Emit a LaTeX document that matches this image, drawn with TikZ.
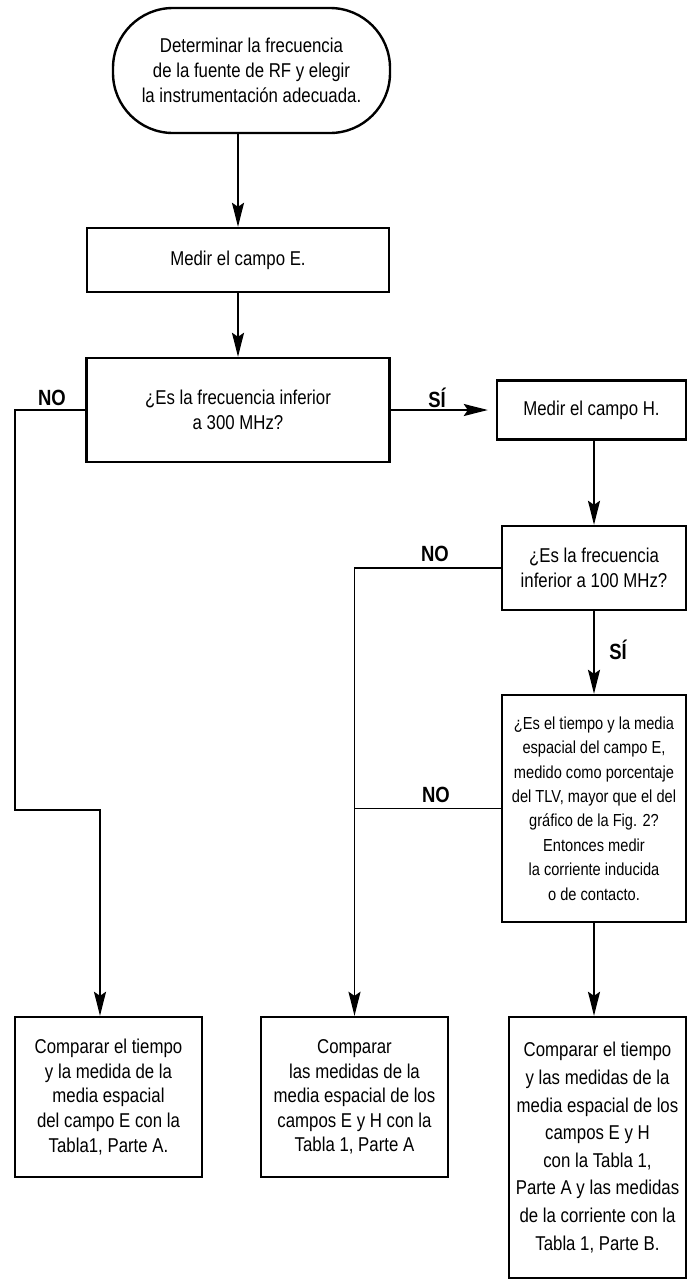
\documentclass[tikz,border=0pt]{standalone}
\usepackage{fontspec}
\setmainfont{Liberation Sans}[FakeStretch=0.84]
\usetikzlibrary{arrows.meta}

\begin{document}
\begin{tikzpicture}[x=0.5pt,y=-0.5pt,
    box/.style={draw,line width=1.2pt,align=center,inner sep=0pt,font=\fontsize{10}{12.3}\selectfont},
    flow/.style={line width=0.9pt,-{Stealth[length=12pt,width=6pt,inset=2pt]}},
    wire/.style={line width=0.9pt},
    tag/.style={font=\fontsize{11}{13}\selectfont\bfseries,inner sep=1pt}]
  \useasboundingbox (0,0) rectangle (689,1280);
  \node[box,rounded corners=30pt,minimum width=138.5pt,minimum height=62.5pt,font=\fontsize{10}{12.6}\selectfont] (start) at (251.5,70.5)
    {Determinar la frecuencia\\de la fuente de RF y elegir\\la instrumentación adecuada.};
  \node[box,minimum width=151pt,minimum height=32pt] (medirE) at (238,260) {Medir el campo E.};
  \node[box,minimum width=151.5pt,minimum height=52pt] (dec1) at (238,410)
    {¿Es la frecuencia inferior\\a 300 MHz?};
  \node[box,minimum width=94.5pt,minimum height=29.5pt] (medirH) at (591.5,410) {Medir el campo H.};
  \node[box,minimum width=92pt,minimum height=42pt] (dec2) at (594,568)
    {¿Es la frecuencia\\inferior a 100 MHz?};
  \node[box,minimum width=92pt,minimum height=113.5pt,font=\fontsize{8.7}{12.2}\selectfont] (dec3) at (594,808.5)
    {¿Es el tiempo y la media\\espacial del campo E,\\medido como porcentaje\\del TLV, mayor que el del\\gráfico de la Fig. 2?\\Entonces medir\\la corriente inducida\\o de contacto.};
  \node[box,minimum width=93.5pt,minimum height=80pt] (outA) at (108.5,1097)
    {Comparar el tiempo\\y la medida de la\\media espacial\\del campo E con la\\Tabla1, Parte A.};
  \node[box,minimum width=93.5pt,minimum height=80pt] (outB) at (354.5,1097)
    {Comparar\\las medidas de la\\media espacial de los\\campos E y H con la\\Tabla 1, Parte A};
  \node[box,minimum width=88.5pt,minimum height=130.5pt,font=\fontsize{10}{13.8}\selectfont] (outC) at (597.5,1147.5)
    {Comparar el tiempo\\y las medidas de la\\media espacial de los\\campos E y H\\con la Tabla 1,\\Parte A y las medidas\\de la corriente con la\\Tabla 1, Parte B.};
  \coordinate (noA) at (15,410);
  \coordinate (bendA) at (15,810);
  \coordinate (dropA) at (100,810);
  \coordinate (noB) at (354.5,568);
  \coordinate (noC) at (354.5,808.5);
  \draw[flow] (start.south -| medirE) -- (medirE);
  \draw[flow] (medirE) -- (dec1);
  \draw[flow,shorten >=4pt] (dec1) -- (medirH);
  \draw[flow] (medirH.south -| dec2) -- (dec2);
  \draw[flow] (dec2) -- (dec3);
  \draw[flow] (dec3.south) -- (dec3.south |- outC.north);
  \draw[flow] (dec1.west) -- (noA) -- (bendA) -- (dropA) -- (dropA |- outA.north);
  \draw[flow] (dec2.west) -- (noB) -- (outB);
  \draw[wire] (dec3.west) -- (noC);
  \node[tag,anchor=south] (no1) at (52,408) {NO};
  \node[tag,anchor=south] (si1) at (437,410) {SÍ};
  \node[tag,anchor=south] (no2) at (435,564) {NO};
  \node[tag] (si2) at (618,650) {SÍ};
  \node[tag,anchor=south] (no3) at (436,805) {NO};
\end{tikzpicture}
\end{document}
